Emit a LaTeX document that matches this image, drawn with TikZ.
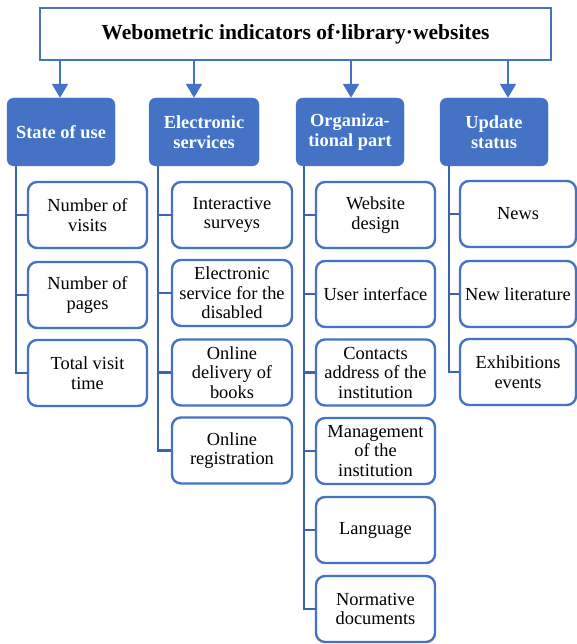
\documentclass[tikz,border=0pt]{standalone}
\usepackage{fontspec}
\setmainfont{Liberation Serif}
\usetikzlibrary{arrows.meta}
\definecolor{wblue}{RGB}{68,114,196}
\definecolor{wline}{RGB}{60,98,176}

\begin{document}
\begin{tikzpicture}[x=1pt, y=-1pt,
  >={Triangle[length=14pt,width=16pt]},
  head/.style={draw=wblue, line width=2.6pt, minimum width=511pt, minimum height=52pt,
    font=\fontsize{21.5}{24}\selectfont\bfseries},
  grp/.style={fill=wblue, draw=wblue, rounded corners=7pt, minimum width=#1,
    minimum height=68pt, text=white, align=center, inner xsep=2pt,
    font=\fontsize{18.4}{19.5}\selectfont\bfseries},
  grp/.default=108pt,
  item/.style={draw=wblue, fill=white, line width=2.4pt, rounded corners=9pt,
    minimum width=#1, minimum height=66pt, align=center, inner xsep=2pt,
    font=\fontsize{18.4}{19.5}\selectfont},
  item/.default=119pt,
  arr/.style={->, draw=wblue, line width=2pt},
  conn/.style={draw=wline, line width=2.6pt}]

\useasboundingbox (0,0) rectangle (577,644);

% heading and the four groups
\node[head] (title) at (295.5,34) {Webometric indicators of·library·websites};
\node[grp]       (su) at (61,132)  {State of use};
\node[grp=110pt] (es) at (204,132) {Electronic\\services};
\node[grp]       (op) at (350,132) {Organiza-\\tional part};
\node[grp]       (us) at (494,132) {Update\\status};

\draw[arr] (title.south -| 60,0)  -- (su.north -| 60,0);
\draw[arr] (title.south -| 194,0) -- (es.north -| 194,0);
\draw[arr] (title.south -| 351,0) -- (op.north -| 351,0);
\draw[arr] (title.south -| 508,0) -- (us.north -| 508,0);

% indicators
\foreach \n/\y/\t in {1/215/{Number of\\visits}, 2/295/{Number of\\pages},
    3/373/{Total visit\\time}}
  \node[item] (su\n) at (87.5,\y) {\t};
\foreach \n/\y/\t in {1/215/{Interactive\\surveys},
    2/293/{Electronic\\service for the\\disabled},
    3/372.5/{Online\\delivery of\\books}, 4/450.5/{Online\\registration}}
  \node[item=120pt] (es\n) at (232,\y) {\t};
\foreach \n/\y/\t in {1/215/{Website\\design}, 2/294/{User interface},
    3/372.5/{Contacts\\address of the\\institution},
    4/451/{Management\\of the\\institution}, 5/530/{Language},
    6/609/{Normative\\documents}}
  \node[item] (op\n) at (375.5,\y) {\t};
\foreach \n/\y/\t in {1/214/{News}, 2/294/{New literature},
    3/372/{Exhibitions\\events}}
  \node[item=116pt] (us\n) at (518,\y) {\t};

% tree lines
\foreach \n in {1,2,3}
  \draw[conn] ([xshift=9pt]su.south west) |- (su\n.west);
\foreach \n in {1,...,4}
  \draw[conn] ([xshift=9pt]es.south west) |- (es\n.west);
\foreach \n in {1,...,6}
  \draw[conn] ([xshift=8pt]op.south west) |- (op\n.west);
\foreach \n in {1,2,3}
  \draw[conn] ([xshift=9pt]us.south west) |- (us\n.west);

\end{tikzpicture}
\end{document}
